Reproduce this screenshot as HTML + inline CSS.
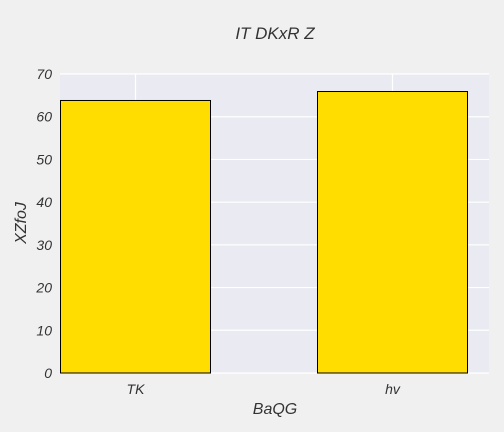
<!DOCTYPE html>
<html><head><meta charset="utf-8"><style>
body{margin:0;background:#f0f0f0;}
svg{display:block;font-family:"Liberation Sans",sans-serif;}
</style></head><body>
<svg id="c" width="504" height="432"></svg>
<script>
const categories=["TK","hv"];
const values=[63.8,65.9];
const yTicks=[0,10,20,30,40,50,60,70];
const NS="http://www.w3.org/2000/svg";
const svg=document.getElementById('c');
const L=60,R=489,T=74,B=373,yMax=70;
const y=v=>B-(v/yMax)*(B-T);
const x=i=>135.5+257*i;
const bw=150;
function mk(t,a,txt){const e=document.createElementNS(NS,t);for(const k in a)e.setAttribute(k,a[k]);if(txt!==undefined)e.textContent=txt;svg.appendChild(e);return e;}
let bg=mk('rect',{x:L,y:T,width:R-L,height:B-T,fill:'#eaeaf2'});


yTicks.forEach(t=>{
  let g=mk('line',{x1:L,x2:R,y1:y(t),y2:y(t),stroke:'#fff','stroke-width':1.2});
  
  
  let l=mk('text',{x:L-8,y:y(t)+5,'text-anchor':'end','font-size':14,'font-style':'italic',fill:'#333'},t);
  
  
});
categories.forEach((c,i)=>{
  let g=mk('line',{x1:x(i),x2:x(i),y1:T,y2:B,stroke:'#fff','stroke-width':1.2});
  
  
});
categories.forEach((c,i)=>{
  let b=mk('rect',{x:x(i)-bw/2,y:y(values[i]),width:bw,height:B-y(values[i]),fill:'#ffdd00',stroke:'#000','stroke-width':1});
  
  
  let l=mk('text',{x:x(i),y:B+21,'text-anchor':'middle','font-size':14,'font-style':'italic',fill:'#333'},c);
  
  
});
let t=mk('text',{x:275,y:39,'text-anchor':'middle','font-size':17,'font-style':'italic',fill:'#333'},'IT DKxR Z');


let xt=mk('text',{x:275,y:414,'text-anchor':'middle','font-size':16,'font-style':'italic',fill:'#333'},'BaQG');


let yt=mk('text',{x:26,y:223,'text-anchor':'middle','font-size':16,'font-style':'italic',fill:'#333',transform:'rotate(-90 26 223)'},'XZfoJ');


</script>
</body></html>
